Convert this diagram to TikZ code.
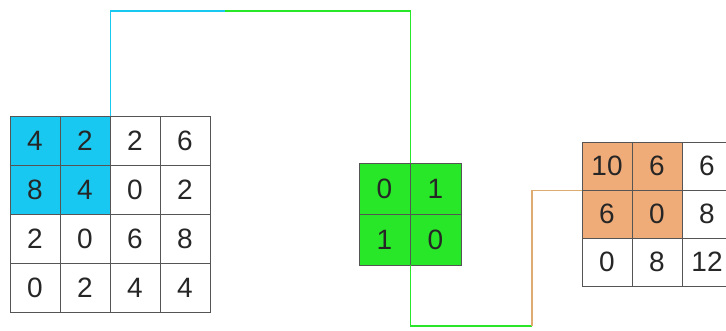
\documentclass[tikz,border=0pt]{standalone}
\usepackage{fontspec}
\setmainfont{Liberation Sans}

\definecolor{poolblue}{RGB}{25,200,240}
\definecolor{kerngreen}{RGB}{40,230,40}
\definecolor{outorange}{RGB}{240,172,120}
\definecolor{linktan}{RGB}{222,172,112}
\definecolor{gridgray}{RGB}{85,85,85}

\tikzset{
  cell/.style={draw=gridgray, line width=0.8pt, inner sep=0pt,
    text=black!85, font=\fontsize{28}{30}\selectfont},
  link/.style={line width=1.8pt}
}

\begin{document}
\begin{tikzpicture}[x=1pt,y=-1pt]
\useasboundingbox (0,0) rectangle (726,331);

% Eingabe
\foreach \row/\vals in {0/{4,2,2,6},1/{8,4,0,2},2/{2,0,6,8},3/{0,2,4,4}} {
  \foreach \v [count=\col from 0,
      evaluate=\col as \shade using {int(100*(\col<2)*(\row<2))}] in \vals {
    \node[cell, fill=poolblue!\shade!white,
      minimum width=50pt, minimum height=49pt]
      (in-\row-\col) at ({35+50*\col},{140.5+49*\row}) {\v};
  }
}

% Filter
\foreach \row/\vals in {0/{0,1},1/{1,0}} {
  \foreach \v [count=\col from 0] in \vals {
    \node[cell, fill=kerngreen,
      minimum width=51pt, minimum height=51pt]
      (k-\row-\col) at ({384.5+51*\col},{188.5+51*\row}) {\v};
  }
}

% Ausgabe
\foreach \row/\vals in {0/{10,6,6},1/{6,0,8},2/{0,8,12}} {
  \foreach \v [count=\col from 0,
      evaluate=\col as \shade using {int(100*(\col<2)*(\row<2))}] in \vals {
    \node[cell, fill=outorange!\shade!white,
      minimum width=50pt, minimum height=48pt]
      (out-\row-\col) at ({607+50*\col},{166+48*\row}) {\v};
  }
}

\coordinate (split) at (225,11);
\coordinate (turn) at (k-0-0.north east |- split);
\coordinate (dip) at (532,326);

\draw[link, poolblue]
(in-0-1.north east)
|-
(split);

\draw[link, kerngreen]
(split)
--
(turn)
--
(k-0-0.north east);

\draw[link, kerngreen]
(k-1-0.south east)
|-
(dip);

\draw[link, linktan, line width=1.2pt]
(dip)
|-
(out-0-0.south west);

\end{tikzpicture}
\end{document}
